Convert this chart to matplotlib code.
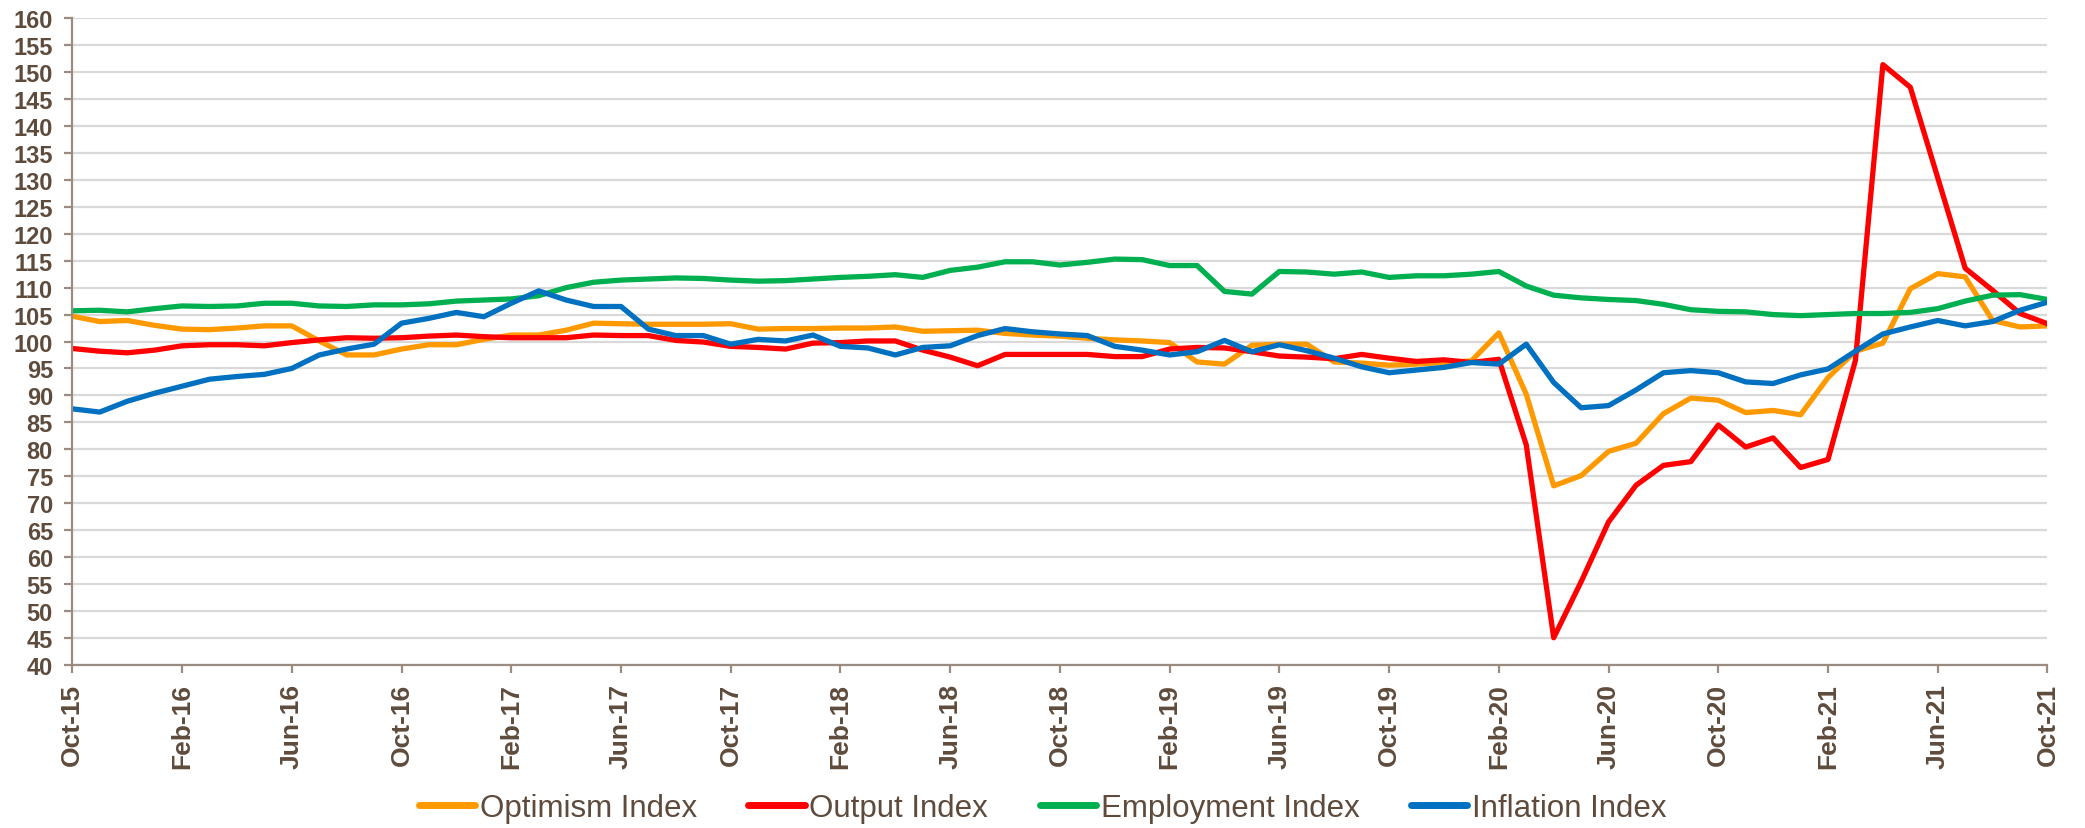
import numpy as np
import pandas as pd
import matplotlib
matplotlib.use("Agg")
import matplotlib.pyplot as plt

# monthly, Oct-15 .. Oct-21
months = pd.date_range("2015-10-01", "2021-10-01", freq="MS").strftime("%b-%y").tolist()

optimism = [104.7, 103.7, 103.9, 103.0, 102.3, 102.2, 102.5, 102.9, 102.9, 100.1,
            97.5, 97.5, 98.6, 99.4, 99.4, 100.4, 101.2, 101.2, 102.1, 103.4,
            103.3, 103.2, 103.2, 103.2, 103.3, 102.3, 102.4, 102.4, 102.5, 102.5,
            102.7, 101.9, 102.0, 102.1, 101.5, 101.2, 101.0, 100.6, 100.3, 100.1,
            99.8, 96.2, 95.8, 99.3, 99.5, 99.5, 96.2, 96.0, 95.6, 95.8,
            96.1, 96.4, 101.6, 90.2, 73.2, 75.1, 79.6, 81.1, 86.6, 89.5,
            89.1, 86.8, 87.2, 86.4, 93.3, 98.2, 99.7, 109.8, 112.6, 112.0,
            103.9, 102.7, 102.9]

output = [98.7, 98.2, 97.9, 98.4, 99.2, 99.4, 99.4, 99.2, 99.8, 100.3,
          100.7, 100.6, 100.7, 101.0, 101.2, 100.9, 100.7, 100.7, 100.7, 101.2,
          101.1, 101.1, 100.2, 99.9, 99.1, 98.9, 98.6, 99.7, 99.8, 100.1,
          100.1, 98.4, 97.1, 95.5, 97.6, 97.6, 97.6, 97.6, 97.2, 97.2,
          98.6, 98.9, 98.8, 98.1, 97.3, 97.1, 96.8, 97.6, 96.9, 96.3,
          96.6, 96.1, 96.7, 80.8, 45.0, 55.4, 66.5, 73.3, 77.0, 77.7,
          84.5, 80.4, 82.1, 76.6, 78.1, 96.5, 151.4, 147.2, 130.4, 113.6,
          109.5, 105.2, 103.3]

employment = [105.7, 105.8, 105.5, 106.1, 106.6, 106.5, 106.6, 107.1, 107.1, 106.6,
              106.5, 106.8, 106.8, 107.0, 107.5, 107.7, 107.9, 108.5, 110.0, 111.0,
              111.4, 111.6, 111.8, 111.7, 111.4, 111.2, 111.3, 111.6, 111.9, 112.1,
              112.4, 111.9, 113.2, 113.8, 114.8, 114.8, 114.2, 114.7, 115.3, 115.2,
              114.1, 114.1, 109.3, 108.8, 113.0, 112.9, 112.5, 112.9, 111.9, 112.2,
              112.2, 112.5, 113.0, 110.3, 108.6, 108.1, 107.8, 107.6, 106.9, 105.9,
              105.6, 105.5, 105.0, 104.8, 105.0, 105.2, 105.2, 105.4, 106.1, 107.5,
              108.6, 108.7, 107.8]

inflation = [87.5, 86.9, 88.9, 90.4, 91.7, 93.0, 93.5, 93.9, 95.0, 97.5,
             98.6, 99.5, 103.4, 104.3, 105.4, 104.6, 107.1, 109.4, 107.7, 106.5,
             106.5, 102.3, 101.1, 101.1, 99.5, 100.4, 100.1, 101.2, 99.1, 98.8,
             97.5, 98.9, 99.2, 101.1, 102.4, 101.8, 101.4, 101.1, 99.1, 98.4,
             97.5, 98.1, 100.2, 98.1, 99.4, 98.3, 96.9, 95.3, 94.2, 94.7,
             95.2, 96.1, 95.8, 99.5, 92.4, 87.7, 88.1, 91.0, 94.2, 94.6,
             94.2, 92.5, 92.2, 93.8, 94.9, 98.2, 101.4, 102.7, 103.9, 102.9,
             103.7, 105.8, 107.3]

series = [
    ("Optimism Index", optimism, "#FF9900"),
    ("Output Index", output, "#FF0000"),
    ("Employment Index", employment, "#00B050"),
    ("Inflation Index", inflation, "#0070C0"),
]

text_color = "#5E4B3C"
axis_color = "#9A8C82"

plt.rcParams["font.family"] = ["Liberation Sans", "DejaVu Sans"]

fig = plt.figure(figsize=(20.85, 8.29), dpi=100)
ax = fig.add_axes([0.0347, 0.197, 0.982 - 0.0347, 0.9767 - 0.197])

x = np.arange(len(months))
for name, vals, col in series:
    ax.plot(x, vals, color=col, lw=3.8, label=name)

ax.set_xlim(0, len(months) - 1)
ax.set_ylim(40, 160)
ax.set_yticks(np.arange(40, 161, 5))
ax.set_xticks(x[::4])
ax.set_xticklabels(months[::4], rotation=90)

ax.grid(axis="y", color="#D9D9D9", lw=1.6)
ax.set_axisbelow(True)
for s in ["top", "right"]:
    ax.spines[s].set_visible(False)
for s in ["left", "bottom"]:
    ax.spines[s].set_color(axis_color)
    ax.spines[s].set_linewidth(1.6)

ax.tick_params(axis="both", colors=axis_color, length=6, width=1.6, direction="out")
ax.tick_params(axis="y", labelsize=17, labelcolor=text_color, pad=8)
ax.tick_params(axis="x", labelsize=19, labelcolor=text_color, pad=7)
for lab in ax.get_xticklabels() + ax.get_yticklabels():
    lab.set_fontweight("bold")

leg = fig.legend(loc="center", bbox_to_anchor=(0.5, 0.024), ncol=4, frameon=False,
                 fontsize=22.5, handlelength=1.8, handletextpad=0.15, columnspacing=1.65)
for t in leg.get_texts():
    t.set_color(text_color)
for h in leg.get_lines():
    h.set_linewidth(5)
    h.set_solid_capstyle("round")

fig.savefig("out.png", dpi=100)
